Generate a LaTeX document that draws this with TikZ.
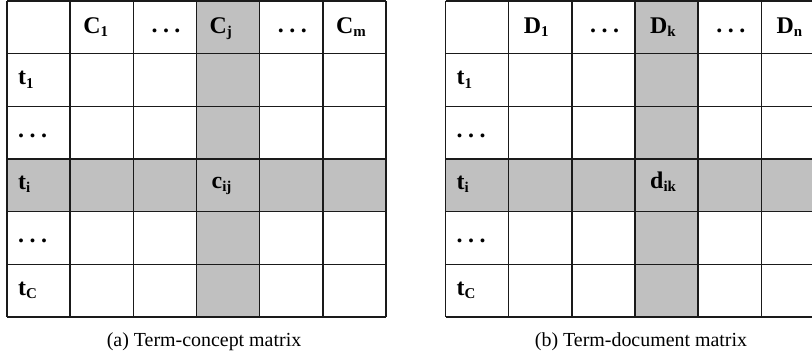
\documentclass[tikz,border=0pt]{standalone}
\usepackage{fontspec}
\setmainfont{Liberation Serif}
\definecolor{cellgray}{HTML}{C0C0C0}
\definecolor{gridline}{HTML}{1A1A1A}
\newcommand{\lbl}[2]{#1\raisebox{-3.5bp}{\fontsize{15}{15}\selectfont\bfseries #2}}
\newcommand{\hdots}{.\hspace{5.5bp}.\hspace{5.5bp}.}
\tikzset{
  grid line/.style={draw=gridline, line width=1.6bp},
  shade cell/.style={fill=cellgray},
  lab/.style={anchor=base west, inner sep=0pt, font=\fontsize{24}{24}\selectfont\bfseries},
  captext/.style={anchor=base, inner sep=0pt, font=\fontsize{20}{24}\selectfont},
}
\begin{document}
\begin{tikzpicture}[x=1bp,y=-1bp]
\useasboundingbox (0,0) rectangle (812,356);
\clip (0,0) rectangle (812,356);
\def\cw{63.17}
\def\rh{52.67}
\def\ytop{1}
\foreach \ox in {7, 445.5} {
  % shading
  \fill[shade cell] (\ox+3*\cw,\ytop) rectangle (\ox+4*\cw,\ytop+6*\rh);
  \fill[shade cell] (\ox,\ytop+3*\rh) rectangle (\ox+6*\cw,\ytop+4*\rh);
  % grid
  \foreach \i in {0,...,6} {
    \draw[grid line] (\ox+\i*\cw,\ytop) -- (\ox+\i*\cw,\ytop+6*\rh);
    \draw[grid line] (\ox,\ytop+\i*\rh) -- (\ox+6*\cw,\ytop+\i*\rh);
  }
}
% labels, table A
\def\ox{7}
\node[lab] (A-h1) at (\ox+1*\cw+13,\ytop+32) {\lbl{C}{1}};
\node[lab] (A-h2) at (\ox+2*\cw+18,\ytop+31) {\hdots};
\node[lab] (A-h3) at (\ox+3*\cw+13,\ytop+32) {\lbl{C}{j}};
\node[lab] (A-h4) at (\ox+4*\cw+18,\ytop+31) {\hdots};
\node[lab] (A-h5) at (\ox+5*\cw+13,\ytop+32) {\lbl{C}{m}};
\node[lab] (A-r1) at (\ox+11,\ytop+1*\rh+31) {\lbl{t}{1}};
\node[lab] (A-r2) at (\ox+11,\ytop+2*\rh+31) {\hdots};
\node[lab] (A-r3) at (\ox+11,\ytop+3*\rh+30) {\lbl{t}{i}};
\node[lab] (A-r4) at (\ox+11,\ytop+4*\rh+31) {\hdots};
\node[lab] (A-r5) at (\ox+11,\ytop+5*\rh+31) {\lbl{t}{C}};
\node[lab] (A-cc) at (\ox+3*\cw+15,\ytop+3*\rh+29) {\lbl{c}{ij}};
\node[captext] (A-cap) at (204,346) {(a) Term-concept matrix};
% labels, table B
\def\ox{445.5}
\node[lab] (B-h1) at (\ox+1*\cw+15,\ytop+32) {\lbl{D}{1}};
\node[lab] (B-h2) at (\ox+2*\cw+18,\ytop+31) {\hdots};
\node[lab] (B-h3) at (\ox+3*\cw+15,\ytop+32) {\lbl{D}{k}};
\node[lab] (B-h4) at (\ox+4*\cw+18,\ytop+31) {\hdots};
\node[lab] (B-h5) at (\ox+5*\cw+15,\ytop+32) {\lbl{D}{n}};
\node[lab] (B-r1) at (\ox+11,\ytop+1*\rh+31) {\lbl{t}{1}};
\node[lab] (B-r2) at (\ox+11,\ytop+2*\rh+31) {\hdots};
\node[lab] (B-r3) at (\ox+11,\ytop+3*\rh+30) {\lbl{t}{i}};
\node[lab] (B-r4) at (\ox+11,\ytop+4*\rh+31) {\hdots};
\node[lab] (B-r5) at (\ox+11,\ytop+5*\rh+31) {\lbl{t}{C}};
\node[lab] (B-cc) at (\ox+3*\cw+15,\ytop+3*\rh+29) {\lbl{d}{ik}};
\node[captext] (B-cap) at (641,346) {(b) Term-document matrix};
\end{tikzpicture}
\end{document}
